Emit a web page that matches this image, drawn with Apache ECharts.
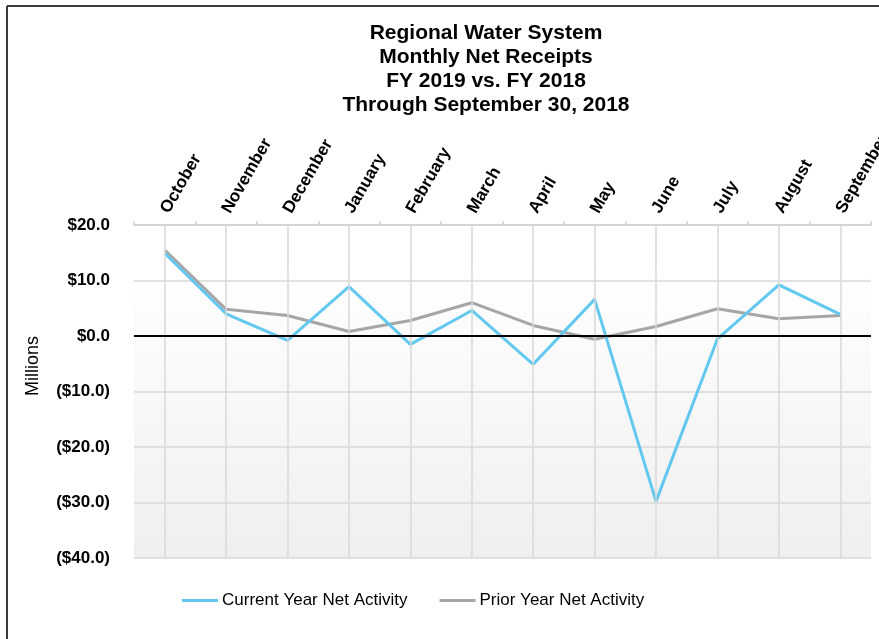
<!DOCTYPE html>
<html>
<head>
<meta charset="utf-8">
<script src="https://cdn.jsdelivr.net/npm/echarts@6/dist/echarts.min.js"></script>
<style>
html,body{margin:0;padding:0;background:#fff;}
#chart{width:879px;height:639px;}
</style>
</head>
<body>
<div id="chart"></div>
<script>
var titleLines = ['Regional Water System', 'Monthly Net Receipts', 'FY 2019 vs. FY 2018', 'Through September 30, 2018'];
var categories = ['October', 'November', 'December', 'January', 'February', 'March', 'April', 'May', 'June', 'July', 'August', 'September'];
var currentYear = [14.9, 4.0, -0.8, 8.9, -1.5, 4.6, -5.1, 6.6, -29.8, -0.5, 9.2, 3.9];
var priorYear = [15.5, 4.8, 3.7, 0.8, 2.8, 6.0, 1.9, -0.6, 1.7, 4.9, 3.1, 3.7];
var seriesNames = ['Current Year Net Activity', 'Prior Year Net Activity'];
var yMin = -40, yMax = 20, yStep = 10;
var axisName = 'Millions';

var FONT = '"Liberation Sans", Arial, Helvetica, sans-serif';

function money(v) {
  return v < 0 ? '($' + (-v).toFixed(1) + ')' : '$' + v.toFixed(1);
}

var chart = echarts.init(document.getElementById('chart'));
var option = {
  backgroundColor: '#ffffff',
  animation: false,
  title: {
    text: titleLines.join('\n'),
    left: 486,
    top: 21,
    padding: 0,
    textAlign: 'center',
    textStyle: {
      fontFamily: FONT, fontWeight: 'bold', fontSize: 21, lineHeight: 24, color: '#000'
    }
  },
  legend: {
    left: 182,
    top: 592,
    padding: 0,
    icon: 'rect',
    itemWidth: 36,
    itemHeight: 3,
    itemGap: 32,
    data: seriesNames,
    textStyle: { fontFamily: FONT, fontSize: 17, color: '#000', padding: [0, 0, 0, -1] }
  },
  graphic: [
    { type: 'line', shape: { x1: 7, y1: 6, x2: 879, y2: 6 }, style: { stroke: '#3a3a3a', lineWidth: 2 } },
    { type: 'line', shape: { x1: 7, y1: 6, x2: 7, y2: 639 }, style: { stroke: '#3a3a3a', lineWidth: 2 } },
    { type: 'text', x: 33, y: 366, rotation: Math.PI / 2,
      style: { text: axisName, fontFamily: FONT, fontSize: 18, fill: '#000', align: 'center', verticalAlign: 'middle' } }
  ],
  grid: {
    left: 134, right: 8, top: 225, bottom: 81,
    outerBoundsMode: 'none',
    containLabel: false,
    show: true,
    borderWidth: 0,
    backgroundColor: new echarts.graphic.LinearGradient(0, 0, 0, 1, [
      { offset: 0, color: '#ffffff' },
      { offset: 0.12, color: '#ffffff' },
      { offset: 1, color: '#efefef' }
    ])
  },
  xAxis: {
    type: 'category',
    position: 'top',
    data: categories,
    boundaryGap: true,
    axisLine: { show: true, onZero: false, lineStyle: { color: '#d0d0d0', width: 1.5 } },
    axisTick: { show: true, length: 4, lineStyle: { color: '#d0d0d0', width: 1.5 } },
    splitLine: { show: false },
    axisLabel: {
      rotate: -60, margin: 13, interval: 0,
      fontFamily: FONT, fontWeight: 'bold', fontSize: 17, color: '#000'
    }
  },
  yAxis: {
    type: 'value',
    min: yMin, max: yMax, interval: yStep,
    axisLine: { show: false },
    axisTick: { show: false },
    splitLine: { show: true, lineStyle: { color: '#d9d9d9', width: 1.5 } },
    axisLabel: {
      margin: 24, formatter: money,
      fontFamily: FONT, fontWeight: 'bold', fontSize: 17, color: '#000'
    }
  },
  series: [
    {
      name: 'grid-helper',
      type: 'line',
      data: [],
      z: 1,
      silent: true,
      markLine: {
        silent: true,
        symbol: 'none',
        label: { show: false },
        lineStyle: { color: '#d9d9d9', width: 1.5, type: 'solid' },
        data: categories.map(function (c) { return { xAxis: c }; }).concat([
          { yAxis: 0, lineStyle: { color: '#000', width: 2, type: 'solid' } }
        ])
      }
    },
    {
      name: seriesNames[1],
      type: 'line',
      data: priorYear,
      symbol: 'none',
      z: 2,
      color: '#a6a6a6',
      lineStyle: { color: '#a6a6a6', width: 3 }
    },
    {
      name: seriesNames[0],
      type: 'line',
      data: currentYear,
      symbol: 'none',
      z: 3,
      color: '#62c8f0',
      lineStyle: { color: '#62c8f0', width: 3 }
    }
  ]
};
chart.setOption(option);
</script>
</body>
</html>
